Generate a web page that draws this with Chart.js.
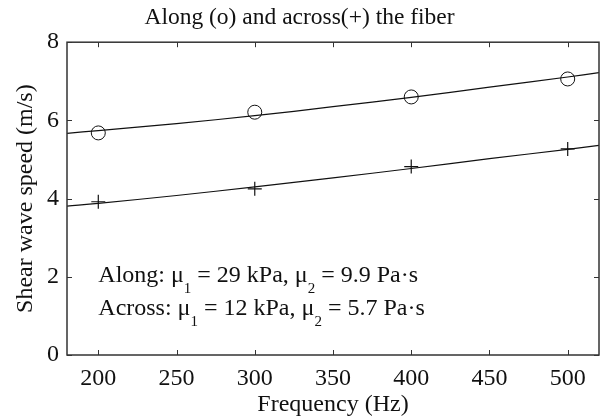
<!DOCTYPE html>
<html>
<head>
<meta charset="utf-8">
<script src="https://cdn.jsdelivr.net/npm/chart.js@4.4.1/dist/chart.umd.min.js"></script>
<style>
  html, body { margin: 0; padding: 0; background: #fff; }
</style>
</head>
<body>
<canvas id="myChart" width="600" height="419"></canvas>
<script>
// measured points (Hz, m/s)
const freqs = [200, 300, 400, 500];
const alongSpeed = [5.68, 6.21, 6.60, 7.06];
const acrossSpeed = [3.92, 4.25, 4.82, 5.27];

// fitted curves
const fitFreqs = [180, 200, 250, 300, 350, 400, 450, 500, 520];
const alongFit = [5.67, 5.74, 5.92, 6.12, 6.35, 6.59, 6.85, 7.11, 7.22];
const acrossFit = [3.81, 3.88, 4.08, 4.30, 4.53, 4.77, 5.02, 5.26, 5.36];

const xTicks = [200, 250, 300, 350, 400, 450, 500];
const yTicks = [0, 2, 4, 6, 8];

const serif = 'Liberation Serif';
const ink = '#111';

const toPoints = (xs, ys) => xs.map((x, i) => ({ x, y: ys[i] }));

// box round the plot with inward ticks on all four sides
const frame = {
    id: 'frame',
    afterDraw(chart) {
        const { ctx, chartArea: a, scales: { x, y } } = chart;
        const len = 5;
        ctx.save();
        ctx.strokeStyle = '#333';
        ctx.lineWidth = 1.5;
        ctx.strokeRect(a.left, a.top, a.right - a.left, a.bottom - a.top);
        ctx.lineWidth = 1;
        ctx.beginPath();
        xTicks.forEach(v => {
            const px = Math.round(x.getPixelForValue(v)) + 0.5;
            ctx.moveTo(px, a.bottom); ctx.lineTo(px, a.bottom - len);
            ctx.moveTo(px, a.top); ctx.lineTo(px, a.top + len);
        });
        yTicks.forEach(v => {
            const py = Math.round(y.getPixelForValue(v)) + 0.5;
            ctx.moveTo(a.left, py); ctx.lineTo(a.left + len, py);
            ctx.moveTo(a.right, py); ctx.lineTo(a.right - len, py);
        });
        ctx.stroke();
        ctx.restore();
    }
};

// parameter text with subscripts, baselines anchored on the y scale
const notes = {
    id: 'notes',
    afterDraw(chart) {
        const { ctx, scales: { x, y } } = chart;
        const lines = [
            { at: 1.87, parts: [['Along: μ', 0], ['1', 1], [' = 29 kPa, μ', 0], ['2', 1], [' = 9.9 Pa·s', 0]] },
            { at: 1.03, parts: [['Across: μ', 0], ['1', 1], [' = 12 kPa, μ', 0], ['2', 1], [' = 5.7 Pa·s', 0]] }
        ];
        ctx.save();
        ctx.fillStyle = ink;
        ctx.textBaseline = 'alphabetic';
        ctx.textAlign = 'left';
        lines.forEach(line => {
            let px = x.getPixelForValue(200);
            const py = y.getPixelForValue(line.at);
            line.parts.forEach(([txt, sub]) => {
                ctx.font = sub ? `15px "${serif}"` : `24px "${serif}"`;
                ctx.fillText(txt, px, py + (sub ? 11 : 0));
                px += ctx.measureText(txt).width;
            });
        });
        ctx.restore();
    }
};

const ctx = document.getElementById('myChart').getContext('2d');
new Chart(ctx, {
    type: 'scatter',
    data: {
        datasets: [
            { data: toPoints(fitFreqs, alongFit), showLine: true, borderColor: ink, borderWidth: 1.2, pointRadius: 0, tension: 0.4, fill: false },
            { data: toPoints(fitFreqs, acrossFit), showLine: true, borderColor: ink, borderWidth: 1.2, pointRadius: 0, tension: 0.4, fill: false },
            { data: toPoints(freqs, alongSpeed), pointStyle: 'circle', pointRadius: 7, borderColor: ink, borderWidth: 1, backgroundColor: 'rgba(0,0,0,0)' },
            { data: toPoints(freqs, acrossSpeed), pointStyle: 'cross', pointRadius: 7, borderColor: ink, borderWidth: 1.2 }
        ]
    },
    options: {
        responsive: false,
        animation: false,
        devicePixelRatio: 1,
        layout: { autoPadding: false, padding: { left: 0, right: 1, top: 0, bottom: 0 } },
        scales: {
            x: {
                type: 'linear', min: 180, max: 520,
                afterBuildTicks: scale => { scale.ticks = xTicks.map(v => ({ value: v })); },
                afterFit: scale => { scale.height = 64; scale.paddingLeft = 0; scale.paddingRight = 0; },
                grid: { display: false, drawTicks: false }, border: { display: false },
                ticks: { color: ink, padding: 9, maxRotation: 0, font: { family: serif, size: 24 } },
                title: { display: true, text: 'Frequency (Hz)', color: ink, padding: { top: 0, bottom: 0 }, font: { family: serif, size: 24 } }
            },
            y: {
                min: 0, max: 8,
                afterBuildTicks: scale => { scale.ticks = yTicks.map(v => ({ value: v })); },
                afterFit: scale => { scale.width = 67; scale.paddingTop = 0; scale.paddingBottom = 0; },
                grid: { display: false, drawTicks: false }, border: { display: false },
                ticks: { color: ink, padding: 8, font: { family: serif, size: 24 } },
                title: { display: true, text: 'Shear wave speed (m/s)', color: ink, padding: { top: 11, bottom: 0 }, font: { family: serif, size: 24 } }
            }
        },
        plugins: {
            legend: { display: false },
            tooltip: { enabled: false },
            title: { display: true, text: 'Along (o) and across(+) the fiber', color: ink, padding: { top: 4, bottom: 10 }, font: { family: serif, size: 23.5, weight: 'normal' } }
        }
    },
    plugins: [frame, notes]
});
</script>
</body>
</html>
